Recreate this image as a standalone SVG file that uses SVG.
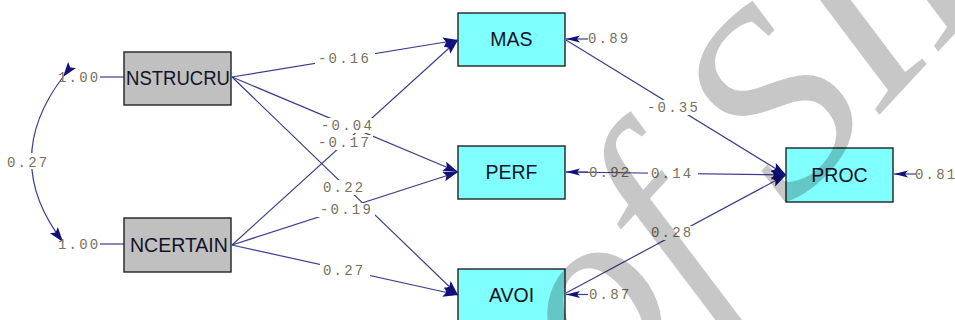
<svg xmlns="http://www.w3.org/2000/svg" width="955" height="320" viewBox="0 0 955 320">
<style>
.box{stroke:#222;stroke-width:1.4}
.lat{fill:#c0c0c0}
.obs{fill:#80ffff}
.nt{font-family:"Liberation Sans",Arial,sans-serif;font-size:19.5px;fill:#141428}
.lb{font-family:"Liberation Mono","Courier New",monospace;font-size:14px;letter-spacing:2.2px;fill:#7a7060}
.ln{stroke:#3c3c8c;stroke-width:1.2;fill:none}
.bg{fill:#fff}
.wm{font-family:"Liberation Serif","Times New Roman",serif;font-style:italic;font-size:265px;fill:#000;fill-opacity:0.22}
</style>
<defs>
<marker id="ah" markerUnits="userSpaceOnUse" markerWidth="16" markerHeight="12" refX="15" refY="5" orient="auto">
<path d="M0,0 L15,5 L0,10 L3,5 Z" fill="#10107a"/>
</marker>
<marker id="sh" markerUnits="userSpaceOnUse" markerWidth="15" markerHeight="8" refX="14" refY="3.5" orient="auto">
<path d="M0,0 L14,3.5 L0,7 L3,3.5 Z" fill="#10107a"/>
</marker>
</defs>
<g id="connectors">
<path class="ln" d="M63,77 Q0,160 63,242" marker-start="url(#ah)" marker-end="url(#ah)"/>
<line class="ln" x1="100" y1="77" x2="124" y2="77"/>
<line class="ln" x1="100" y1="244" x2="124" y2="244"/>
<line class="ln" x1="232" y1="77" x2="458" y2="40" marker-end="url(#ah)"/>
<line class="ln" x1="232" y1="77" x2="458" y2="172" marker-end="url(#ah)"/>
<line class="ln" x1="232" y1="77" x2="458" y2="295" marker-end="url(#ah)"/>
<line class="ln" x1="232" y1="245" x2="458" y2="40" marker-end="url(#ah)"/>
<line class="ln" x1="232" y1="245" x2="458" y2="172" marker-end="url(#ah)"/>
<line class="ln" x1="232" y1="245" x2="458" y2="295" marker-end="url(#ah)"/>
<line class="ln" x1="566" y1="40" x2="786" y2="175" marker-end="url(#ah)"/>
<line class="ln" x1="566" y1="172" x2="786" y2="175" marker-end="url(#ah)"/>
<line class="ln" x1="566" y1="293" x2="786" y2="175" marker-end="url(#ah)"/>
<line class="ln" x1="588" y1="39" x2="566" y2="39" marker-end="url(#sh)"/>
<line class="ln" x1="588" y1="172" x2="566" y2="172" marker-end="url(#sh)"/>
<line class="ln" x1="588" y1="294.5" x2="566" y2="294.5" marker-end="url(#sh)"/>
<line class="ln" x1="916" y1="174" x2="894" y2="174" marker-end="url(#sh)"/>
</g>
<g id="labels">
<rect class="bg" x="4" y="153" width="46" height="16"/>
<rect class="bg" x="315" y="51" width="60" height="15"/>
<rect class="bg" x="318" y="118" width="58" height="15"/>
<rect class="bg" x="315" y="135" width="58" height="15"/>
<rect class="bg" x="320" y="180" width="48" height="15"/>
<rect class="bg" x="317" y="203" width="58" height="14"/>
<rect class="bg" x="320" y="264" width="50" height="14"/>
<rect class="bg" x="644" y="100" width="60" height="15"/>
<rect class="bg" x="648" y="167" width="50" height="14"/>
<rect class="bg" x="648" y="226" width="50" height="14"/>
<text class="lb" x="7" y="166.5">0.27</text>
<text class="lb" x="58" y="81.5">1.00</text>
<text class="lb" x="58" y="249">1.00</text>
<text class="lb" x="318" y="63">-0.16</text>
<text class="lb" x="321" y="130">-0.04</text>
<text class="lb" x="318" y="147">-0.17</text>
<text class="lb" x="323" y="191.5">0.22</text>
<text class="lb" x="320" y="214">-0.19</text>
<text class="lb" x="323" y="275">0.27</text>
<text class="lb" x="647" y="111.5">-0.35</text>
<text class="lb" x="651" y="178">0.14</text>
<text class="lb" x="651" y="237">0.28</text>
<text class="lb" x="588" y="43">0.89</text>
<text class="lb" x="589" y="176.5">0.92</text>
<text class="lb" x="589" y="299">0.87</text>
<text class="lb" x="915" y="179" letter-spacing="1.2">0.81</text>
</g>
<g id="NSTRUCRU"><rect class="box lat" x="124" y="52" width="107" height="53"/><text class="nt" x="126" y="85" textLength="104" lengthAdjust="spacingAndGlyphs">NSTRUCRU</text></g>
<g id="NCERTAIN"><rect class="box lat" x="124" y="218" width="107" height="54"/><text class="nt" x="130" y="251.5">NCERTAIN</text></g>
<g id="MAS"><rect class="box obs" x="458" y="13" width="107" height="53"/><text class="nt" x="511.5" y="46" text-anchor="middle">MAS</text></g>
<g id="PERF"><rect class="box obs" x="458" y="146" width="107" height="53"/><text class="nt" x="511.5" y="178.5" text-anchor="middle">PERF</text></g>
<g id="AVOI"><rect class="box obs" x="458" y="269" width="107" height="53"/><text class="nt" x="511.5" y="302" text-anchor="middle">AVOI</text></g>
<g id="PROC"><rect class="box obs" x="786" y="148" width="107" height="54"/><text class="nt" x="839.5" y="182" text-anchor="middle">PROC</text></g>
<text class="wm" transform="translate(604,410) rotate(-47)">of SID</text>
</svg>
